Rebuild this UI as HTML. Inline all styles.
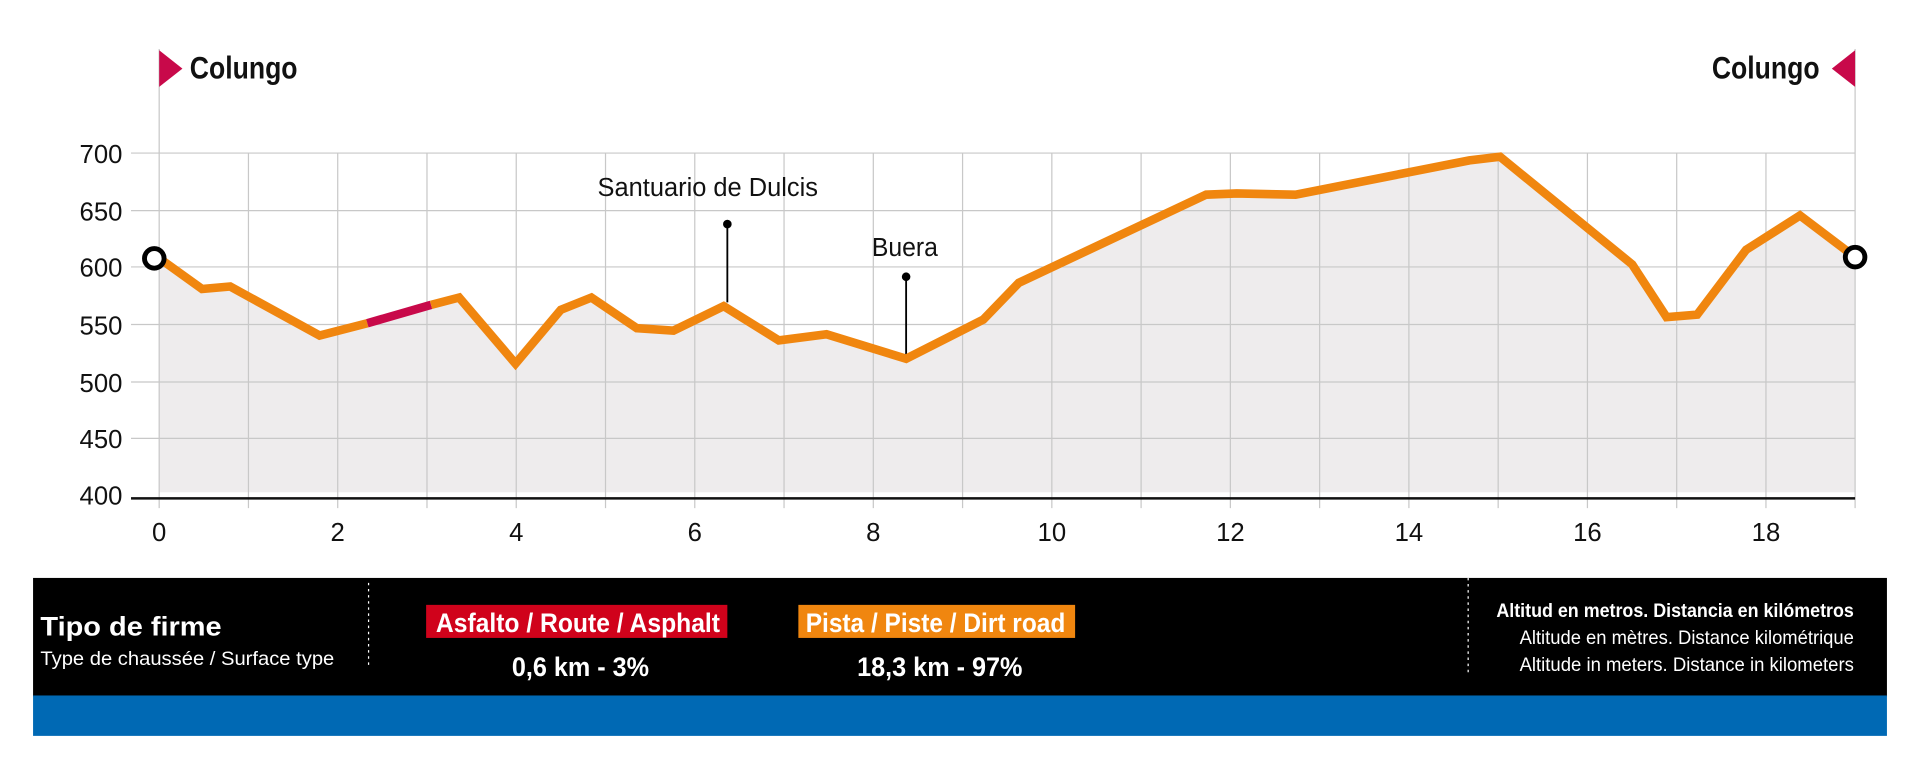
<!DOCTYPE html>
<html><head><meta charset="utf-8"><style>
html,body{margin:0;padding:0;background:#fff;}
svg{display:block;}
text{font-family:"Liberation Sans",sans-serif;}
</style></head><body>
<svg width="1920" height="778" viewBox="0 0 1568 635.4" preserveAspectRatio="none" xmlns="http://www.w3.org/2000/svg">
<rect width="1568" height="636" fill="#fff"/>
<polygon fill="#eeeced" points="130,208 165,236 188,234 261,274 300,264 352,249 375,243 421,297 458,253 483,243 520,268 550,270 591,250 636,278 675,273 740,293 803,261 832,231 985,159 1010,158 1058,159 1200,131 1225,128 1333,216 1361,259 1386,257 1426,204 1470,176 1515,210 1515,402 130,402"/>
<g stroke="#c8c8c8" stroke-width="1">
<line x1="107" y1="125" x2="1515" y2="125"/>
<line x1="107" y1="172" x2="1515" y2="172"/>
<line x1="107" y1="218" x2="1515" y2="218"/>
<line x1="107" y1="265" x2="1515" y2="265"/>
<line x1="107" y1="312" x2="1515" y2="312"/>
<line x1="107" y1="358" x2="1515" y2="358"/>
</g>
<g stroke="#c8c8c8" stroke-width="1">
<line x1="130" y1="40" x2="130" y2="415"/>
<line x1="202.9" y1="125" x2="202.9" y2="415"/>
<line x1="275.8" y1="125" x2="275.8" y2="415"/>
<line x1="348.7" y1="125" x2="348.7" y2="415"/>
<line x1="421.6" y1="125" x2="421.6" y2="415"/>
<line x1="494.5" y1="125" x2="494.5" y2="415"/>
<line x1="567.4" y1="125" x2="567.4" y2="415"/>
<line x1="640.3" y1="125" x2="640.3" y2="415"/>
<line x1="713.2" y1="125" x2="713.2" y2="415"/>
<line x1="786.1" y1="125" x2="786.1" y2="415"/>
<line x1="859" y1="125" x2="859" y2="415"/>
<line x1="931.9" y1="125" x2="931.9" y2="415"/>
<line x1="1004.8" y1="125" x2="1004.8" y2="415"/>
<line x1="1077.7" y1="125" x2="1077.7" y2="415"/>
<line x1="1150.6" y1="125" x2="1150.6" y2="415"/>
<line x1="1223.5" y1="125" x2="1223.5" y2="415"/>
<line x1="1296.4" y1="125" x2="1296.4" y2="415"/>
<line x1="1369.3" y1="125" x2="1369.3" y2="415"/>
<line x1="1442.2" y1="125" x2="1442.2" y2="415"/>
<line x1="1515" y1="40" x2="1515" y2="415"/>
</g>
<line x1="107" y1="407" x2="1515" y2="407" stroke="#111" stroke-width="2"/>
<g font-size="21" fill="#111" text-anchor="end">
<text x="100" y="133">700</text>
<text x="100" y="180">650</text>
<text x="100" y="226">600</text>
<text x="100" y="273">550</text>
<text x="100" y="320">500</text>
<text x="100" y="366">450</text>
<text x="100" y="412">400</text>
</g>
<g font-size="21" fill="#111" text-anchor="middle">
<text x="130" y="442">0</text>
<text x="275.8" y="442">2</text>
<text x="421.6" y="442">4</text>
<text x="567.4" y="442">6</text>
<text x="713.2" y="442">8</text>
<text x="859" y="442">10</text>
<text x="1004.8" y="442">12</text>
<text x="1150.6" y="442">14</text>
<text x="1296.4" y="442">16</text>
<text x="1442.2" y="442">18</text>
</g>
<line x1="594" y1="183" x2="594" y2="247" stroke="#000" stroke-width="1.5"/>
<circle cx="594" cy="183" r="3.5" fill="#000"/>
<text x="488" y="160" font-size="21" fill="#111" textLength="180" lengthAdjust="spacingAndGlyphs">Santuario de Dulcis</text>
<line x1="740" y1="226" x2="740" y2="290" stroke="#000" stroke-width="1.5"/>
<circle cx="740" cy="226" r="3.5" fill="#000"/>
<text x="712" y="209" font-size="21" fill="#111" textLength="54" lengthAdjust="spacingAndGlyphs">Buera</text>
<polyline fill="none" stroke="#f0860f" stroke-width="7" points="126,208 165,236 188,234 261,274 300,264"/>
<polyline fill="none" stroke="#c8094a" stroke-width="7" points="300,264 352,249"/>
<polyline fill="none" stroke="#f0860f" stroke-width="7" points="352,249 375,243 421,297 458,253 483,243 520,268 550,270 591,250 636,278 675,273 740,293 803,261 832,231 985,159 1010,158 1058,159 1200,131 1225,128 1333,216 1361,259 1386,257 1426,204 1470,176 1515,210"/>
<circle cx="126" cy="211" r="8" fill="#fff" stroke="#000" stroke-width="4"/>
<circle cx="1515" cy="210" r="8" fill="#fff" stroke="#000" stroke-width="4"/>
<polygon points="130,41 149,56 130,71" fill="#c8094a"/>
<text x="155" y="64" font-size="26" font-weight="bold" fill="#111" textLength="88" lengthAdjust="spacingAndGlyphs">Colungo</text>
<polygon points="1515,41 1496,56 1515,71" fill="#c8094a"/>
<text x="1398" y="64" font-size="26" font-weight="bold" fill="#111" textLength="88" lengthAdjust="spacingAndGlyphs">Colungo</text>
<rect x="27" y="472" width="1514" height="97" fill="#000"/>
<rect x="27" y="568" width="1514" height="33" fill="#0069b4"/>
<text x="33" y="519" font-size="22" font-weight="bold" fill="#fff" textLength="148" lengthAdjust="spacingAndGlyphs">Tipo de firme</text>
<text x="33" y="543" font-size="16" fill="#fff" textLength="240" lengthAdjust="spacingAndGlyphs">Type de chaussée / Surface type</text>
<line x1="301" y1="476" x2="301" y2="546" stroke="#fff" stroke-width="1" stroke-dasharray="2,3"/>
<line x1="1199" y1="472" x2="1199" y2="549" stroke="#fff" stroke-width="1" stroke-dasharray="2,3"/>
<rect x="348" y="494" width="246" height="27" fill="#d0021b"/>
<text x="356" y="516" font-size="22" font-weight="bold" fill="#fff" textLength="232" lengthAdjust="spacingAndGlyphs">Asfalto / Route / Asphalt</text>
<rect x="652" y="494" width="226" height="27" fill="#f0860f"/>
<text x="658" y="516" font-size="22" font-weight="bold" fill="#fff" textLength="212" lengthAdjust="spacingAndGlyphs">Pista / Piste / Dirt road</text>
<text x="418" y="552" font-size="22" font-weight="bold" fill="#fff" textLength="112" lengthAdjust="spacingAndGlyphs">0,6 km - 3%</text>
<text x="700" y="552" font-size="22" font-weight="bold" fill="#fff" textLength="135" lengthAdjust="spacingAndGlyphs">18,3 km - 97%</text>
<text x="1222" y="504" font-size="16" font-weight="bold" fill="#fff" textLength="292" lengthAdjust="spacingAndGlyphs">Altitud en metros. Distancia en kilómetros</text>
<text x="1241" y="526" font-size="16" fill="#fff" textLength="273" lengthAdjust="spacingAndGlyphs">Altitude en mètres. Distance kilométrique</text>
<text x="1241" y="548" font-size="16" fill="#fff" textLength="273" lengthAdjust="spacingAndGlyphs">Altitude in meters. Distance in kilometers</text>
</svg>
</body></html>
